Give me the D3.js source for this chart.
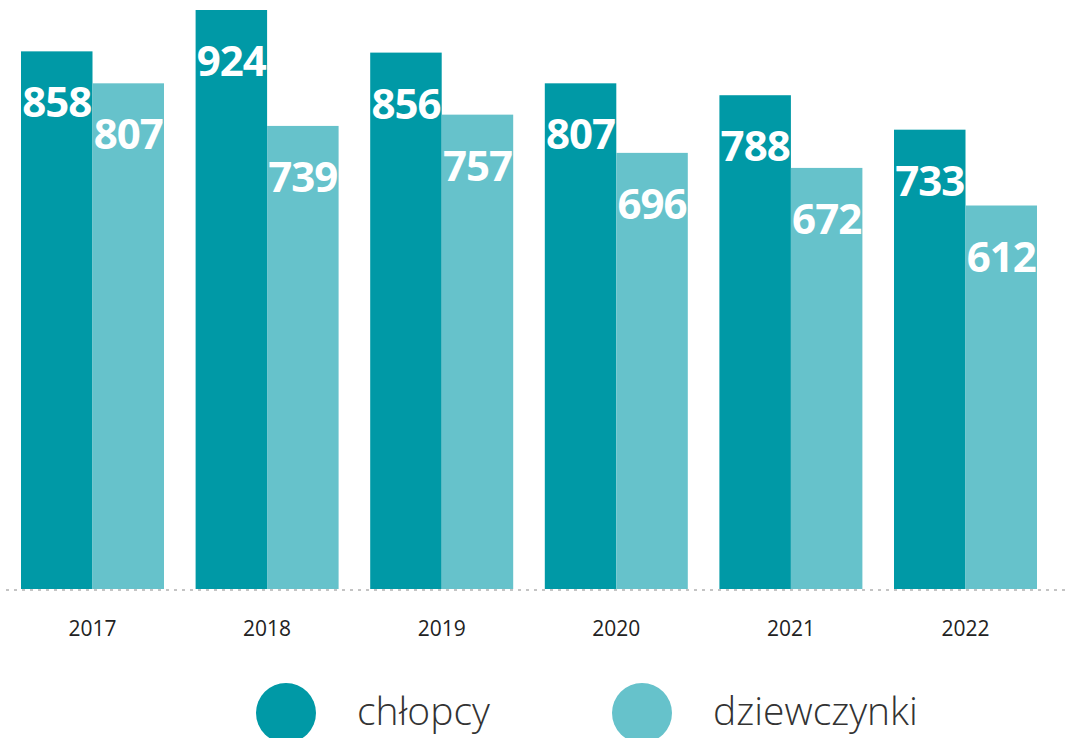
<!doctype html>
<html>
	<head>
		<title>Chłopcy i dziewczynki 2017-2022</title>
		<meta charset="utf-8"/>
		<script src="https://cdnjs.cloudflare.com/ajax/libs/d3/7.8.5/d3.min.js" type="text/Javascript"></script>
		<style>
			body { margin: 0; background: #fff; }
			svg { display: block; }
		</style>
	</head>
<body>

	<svg width="1076" height="738"></svg>

	<script>
		var years = ["2017", "2018", "2019", "2020", "2021", "2022"];
		var chlopcy = [858, 924, 856, 807, 788, 733];
		var dziewczynki = [807, 739, 757, 696, 672, 612];
		var seriesNames = ["chłopcy", "dziewczynki"];
		var colors = ["#0099a6", "#66c2cb"];

		var svg = d3.select("svg");

		var xScale = d3.scaleBand().domain(years).range([21, 1037]).paddingInner(0.181).paddingOuter(0);
		var subScale = d3.scaleBand().domain(seriesNames).range([0, xScale.bandwidth()]);
		var yScale = d3.scaleLinear().domain([0, 924]).range([589, 10]);

		var rows = years.map(function (y, i) {
			return { year: y, values: [chlopcy[i], dziewczynki[i]] };
		});

		var groups = svg.selectAll("g.year")
			.data(rows)
			.enter()
			.append("g")
			.attr("class", "year")
			.attr("transform", function (d) { return "translate(" + xScale(d.year) + ",0)"; });

		groups.selectAll("rect")
			.data(function (d) { return d.values; })
			.enter()
			.append("rect")
			.attr("x", function (d, i) { return subScale(seriesNames[i]); })
			.attr("width", subScale.bandwidth())
			.attr("y", function (d) { return yScale(d); })
			.attr("height", function (d) { return yScale(0) - yScale(d); })
			.attr("fill", function (d, i) { return colors[i]; });

		// value labels sit a fixed distance under the top of each bar
		groups.selectAll("text.val")
			.data(function (d) { return d.values; })
			.enter()
			.append("text")
			.attr("class", "val")
			.attr("x", function (d, i) { return subScale(seriesNames[i]) + subScale.bandwidth() / 2; })
			.attr("y", function (d) { return yScale(d) + 66; })
			.attr("text-anchor", "middle")
			.attr("fill", "#fff")
			.style("font-family", "'Noto Sans', 'Open Sans', sans-serif")
			.style("font-weight", 700)
			.style("font-size", "42px")
			.style("letter-spacing", "-1px")
			.text(function (d) { return d; });

		// dotted baseline
		svg.append("line")
			.attr("x1", 6)
			.attr("x2", 1070)
			.attr("y1", yScale(0) + 1)
			.attr("y2", yScale(0) + 1)
			.attr("stroke", "#c4c4c4")
			.attr("stroke-width", 2)
			.attr("stroke-dasharray", "3,5");

		var xAxis = d3.axisBottom(xScale).tickSize(0).tickPadding(0);
		var xAxisG = svg.append("g")
			.attr("id", "xAxisG")
			.attr("transform", "translate(0,620)")
			.call(xAxis);
		xAxisG.select(".domain").remove();
		xAxisG.selectAll("text")
			.attr("dy", "0.75em")
			.attr("fill", "#222")
			.style("font-family", "'Open Sans', sans-serif")
			.style("font-size", "21px");

		// legend
		var legendX = [286, 642];
		var legend = svg.selectAll("g.legend")
			.data(seriesNames)
			.enter()
			.append("g")
			.attr("class", "legend")
			.attr("transform", function (d, i) { return "translate(" + legendX[i] + ",713)"; });

		legend.append("circle")
			.attr("r", 30)
			.attr("fill", function (d, i) { return colors[i]; });

		legend.append("text")
			.attr("x", 71)
			.attr("y", 12)
			.attr("fill", "#333")
			.style("font-family", "'Open Sans', sans-serif")
			.style("font-weight", 300)
			.style("font-size", "39px")
			.text(function (d) { return d; });
	</script>

</body>
</html>
